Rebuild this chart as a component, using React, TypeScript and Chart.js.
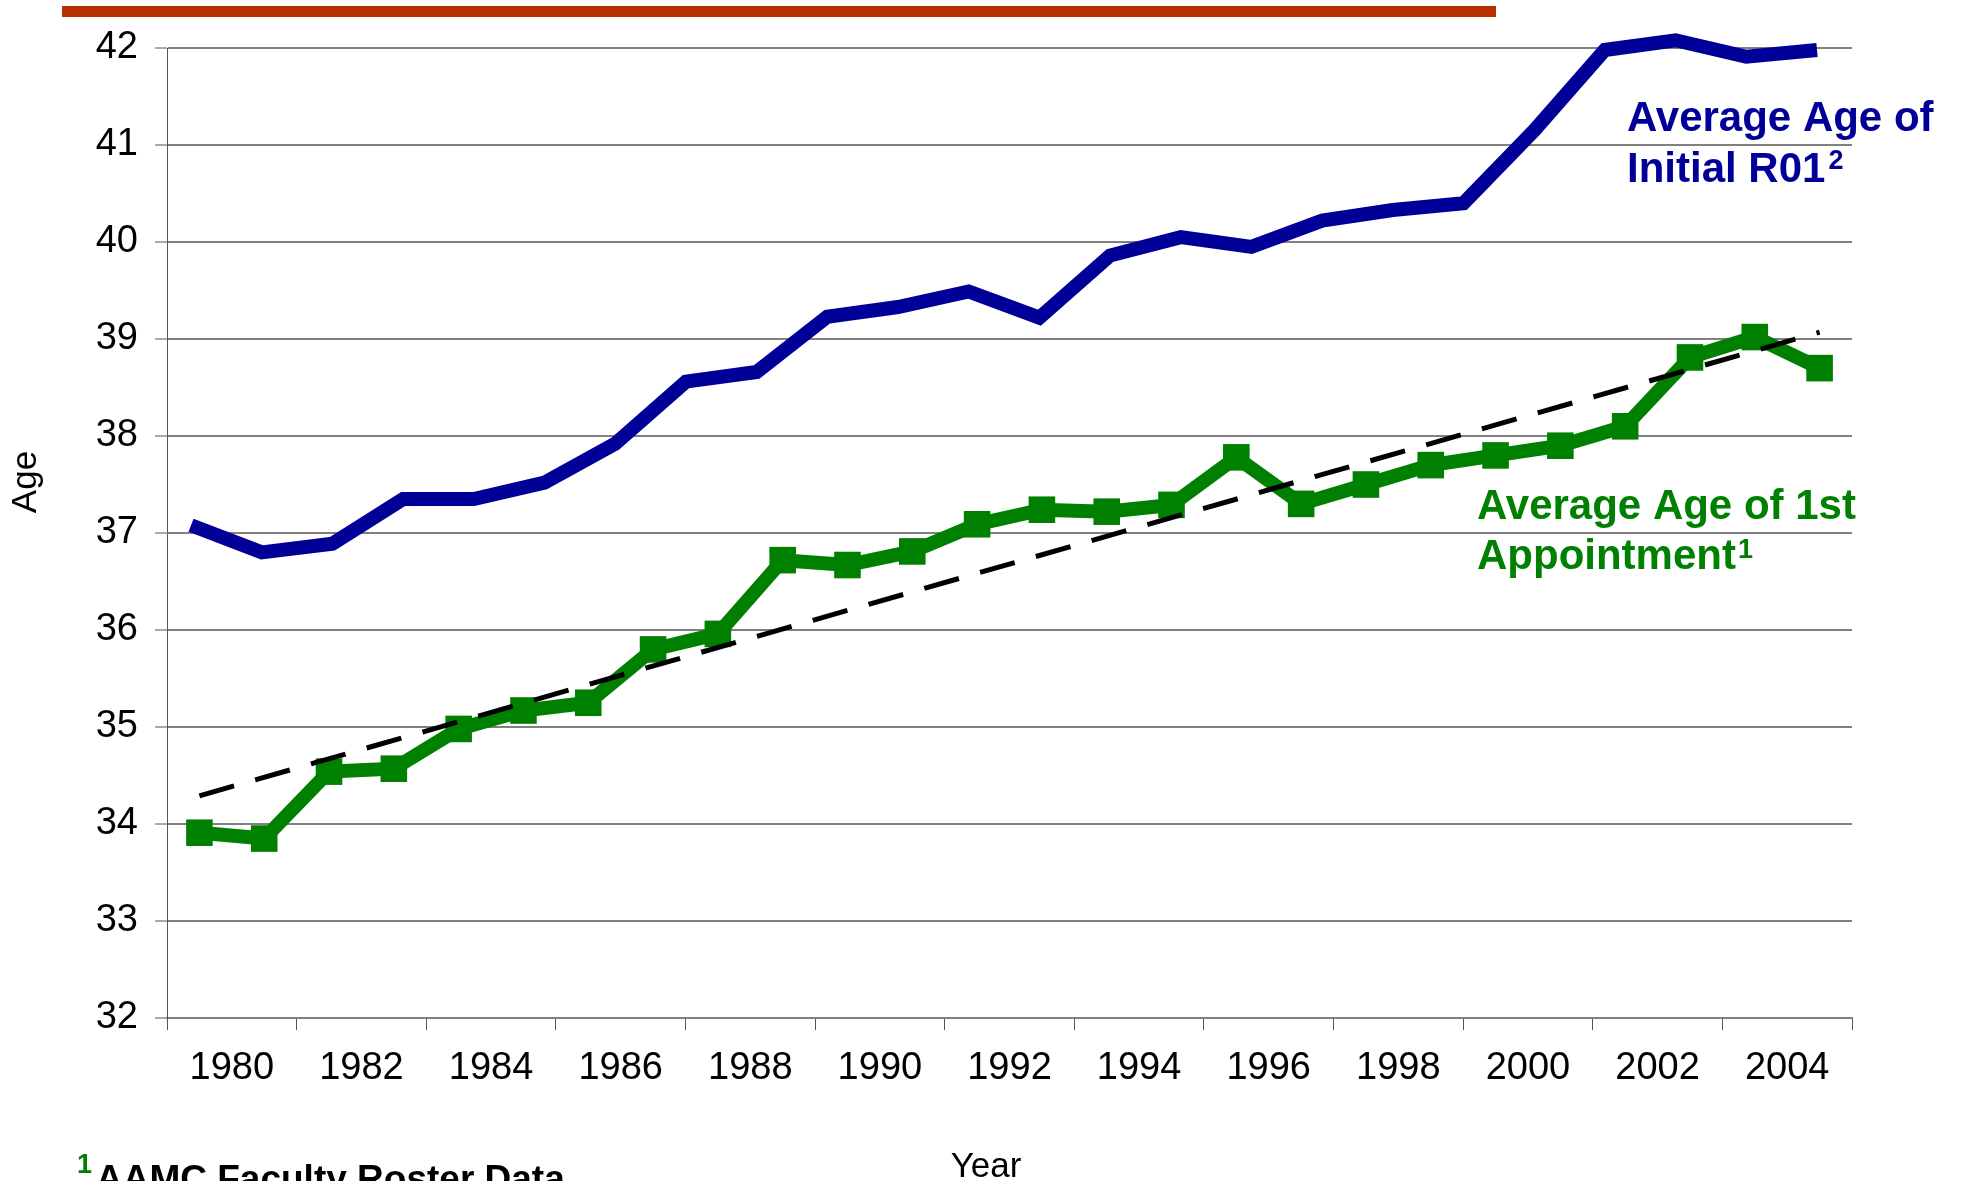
import React, { useEffect, useRef } from 'react';
import { Chart, registerables } from 'chart.js';

Chart.register(...registerables);

// Categories (years of first appointment series)
const years = [
  1980, 1981, 1982, 1983, 1984, 1985, 1986, 1987, 1988, 1989, 1990, 1991, 1992,
  1993, 1994, 1995, 1996, 1997, 1998, 1999, 2000, 2001, 2002, 2003, 2004, 2005,
];

// Average Age of 1st Appointment (AAMC Faculty Roster Data)
const firstAppointmentAge = [
  33.91, 33.85, 34.54, 34.57, 34.98, 35.17, 35.25, 35.8, 35.96, 36.72, 36.67, 36.81,
  37.09, 37.24, 37.22, 37.29, 37.78, 37.3, 37.5, 37.7, 37.8, 37.9, 38.1, 38.81, 39.02, 38.7,
];

// Average Age of Initial R01 (plotted on its own category axis, 24 points)
const initialR01Age = [
  37.08, 36.8, 36.89, 37.35, 37.35, 37.52, 37.92, 38.56, 38.66, 39.23, 39.33, 39.49,
  39.22, 39.86, 40.05, 39.95, 40.22, 40.33, 40.4, 41.15, 41.98, 42.08, 41.91, 41.98,
];

// Linear trend line of the 1st appointment series (end points)
const trendYears = [1980, 2005];
const trendAge = [34.29, 39.07];

// X tick labels
const yearTickLabels = [
  '1980', '1982', '1984', '1986', '1988', '1990', '1992', '1994', '1996', '1998', '2000', '2002', '2004',
];

const FONT = '"Liberation Sans", Arial, Helvetica, sans-serif';
const BLUE = '#000099';
const GREEN = '#008000';

const overlay = {
  id: 'overlay',
  afterDraw(chart: any) {
    const ctx: CanvasRenderingContext2D = chart.ctx;
    ctx.save();

    // top red rule
    ctx.fillStyle = '#B83000';
    ctx.fillRect(62, 6, 1434, 11);

    // axis titles
    ctx.fillStyle = '#000';
    ctx.font = `35px ${FONT}`;
    ctx.textAlign = 'center';
    ctx.textBaseline = 'alphabetic';
    ctx.fillText('Year', 986, 1177);
    ctx.save();
    ctx.translate(36, 482);
    ctx.rotate(-Math.PI / 2);
    ctx.fillText('Age', 0, 0);
    ctx.restore();

    ctx.textAlign = 'left';

    // blue annotation
    ctx.fillStyle = BLUE;
    ctx.font = `bold 42px ${FONT}`;
    ctx.fillText('Average Age of', 1627, 131);
    ctx.fillText('Initial R01', 1627, 182);
    let w = ctx.measureText('Initial R01').width;
    ctx.font = `bold 27px ${FONT}`;
    ctx.fillText('2', 1627 + w + 3, 169);

    // green annotation
    ctx.fillStyle = GREEN;
    ctx.font = `bold 42px ${FONT}`;
    ctx.fillText('Average Age of 1st', 1477, 519);
    ctx.fillText('Appointment', 1477, 569);
    w = ctx.measureText('Appointment').width;
    ctx.font = `bold 27px ${FONT}`;
    ctx.fillText('1', 1477 + w + 2, 558);

    // footnote
    ctx.fillStyle = GREEN;
    ctx.font = `bold 27px ${FONT}`;
    ctx.fillText('1', 77, 1173);
    ctx.fillStyle = '#000';
    ctx.font = `bold 37px ${FONT}`;
    ctx.fillText('AAMC Faculty Roster Data', 96, 1191);

    ctx.restore();
  },
};

export default function App() {
  const ref = useRef<HTMLCanvasElement>(null);

  useEffect(() => {
    document.body.style.margin = '0';
    const boundaries = [years[0] - 0.5, ...years.map((y) => y + 0.5)];

    const chart = new Chart(ref.current as HTMLCanvasElement, {
      type: 'line',
      data: {
        datasets: [
          {
            label: 'Trend',
            data: trendYears.map((x, i) => ({ x, y: trendAge[i] })),
            xAxisID: 'x',
            yAxisID: 'y',
            borderColor: '#000',
            borderWidth: 5,
            borderDash: [36, 22],
            pointRadius: 0,
            fill: false,
            clip: false as any,
          },
          {
            label: 'Average Age of 1st Appointment',
            data: years.map((x, i) => ({ x, y: firstAppointmentAge[i] })),
            xAxisID: 'x',
            yAxisID: 'y',
            borderColor: GREEN,
            backgroundColor: GREEN,
            borderWidth: 14,
            pointStyle: 'rect',
            pointRadius: 18.8,
            pointBorderWidth: 0,
            pointBackgroundColor: GREEN,
            fill: false,
            clip: false as any,
          },
          {
            label: 'Average Age of Initial R01',
            data: initialR01Age.map((y, i) => ({ x: i, y })),
            xAxisID: 'x2',
            yAxisID: 'y',
            borderColor: BLUE,
            borderWidth: 14,
            pointRadius: 0,
            fill: false,
            clip: false as any,
          },
        ],
      },
      options: {
        responsive: false,
        animation: false,
        layout: { padding: { top: 48, right: 109, left: 0, bottom: 0 } },
        plugins: { legend: { display: false }, tooltip: { enabled: false } },
        scales: {
          x: {
            type: 'linear',
            min: years[0] - 0.5,
            max: years[years.length - 1] + 0.5,
            afterBuildTicks: (axis: any) => {
              axis.ticks = boundaries.map((v) => ({ value: v }));
            },
            afterFit: (s: any) => {
              s.height = 163;
            },
            ticks: {
              autoSkip: false,
              maxRotation: 0,
              minRotation: 0,
              padding: 16,
              color: '#000',
              font: { family: FONT, size: 38 },
              callback: (v: any) => {
                const l = yearTickLabels.find((t) => Number(t) + 0.5 === v);
                return l ?? '';
              },
            },
            grid: {
              drawOnChartArea: false,
              tickLength: 12,
              tickWidth: 1,
              tickColor: (c: any) => (c.index % 2 === 0 ? '#555' : 'rgba(0,0,0,0)'),
            },
            border: { display: true, color: '#808080', width: 2 },
          },
          x2: {
            type: 'linear',
            display: false,
            min: -0.34,
            max: 23.495,
          },
          y: {
            min: 32,
            max: 42,
            afterFit: (s: any) => {
              s.width = 167;
            },
            ticks: {
              stepSize: 1,
              padding: 17,
              color: '#000',
              font: { family: FONT, size: 38 },
            },
            grid: {
              color: '#808080',
              lineWidth: 2,
              tickLength: 12,
              tickWidth: 1,
              tickColor: '#555',
            },
            border: { color: '#555', width: 1 },
          },
        },
      } as any,
      plugins: [overlay],
    });
    return () => chart.destroy();
  }, []);

  return (
    <div style={{ position: 'fixed', left: 0, top: 0, width: 1961, height: 1181, background: '#fff' }}>
      <canvas ref={ref} width={1961} height={1181} style={{ display: 'block' }} />
    </div>
  );
}
